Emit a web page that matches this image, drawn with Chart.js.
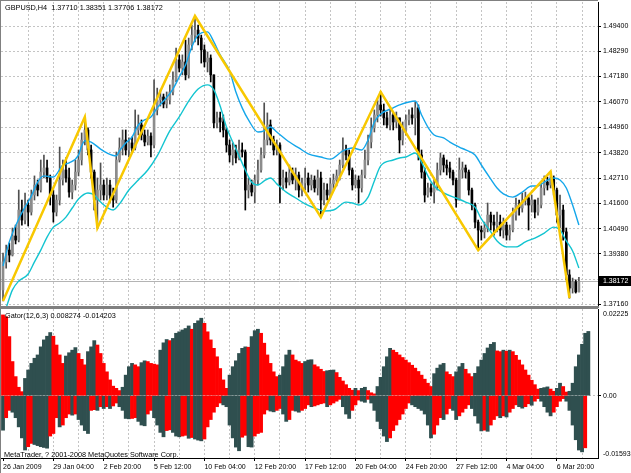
<!DOCTYPE html>
<html>
<head>
<meta charset="utf-8">
<script src="https://cdn.jsdelivr.net/npm/chart.js@4.4.1/dist/chart.umd.min.js"></script>
<style>
  html, body { margin: 0; padding: 0; background: #fff; }
  #wrap { position: relative; width: 631px; height: 473px; overflow: hidden; }
  #price { position: absolute; left: 0; top: 0; }
  #gator { position: absolute; left: 0; top: 308px; }
</style>
</head>
<body>
<div id="wrap">
  <canvas id="price" width="631" height="308" style="width:631px;height:308px"></canvas>
  <canvas id="gator" width="631" height="165" style="width:631px;height:165px"></canvas>
</div>
<script>
// GBPUSD H4, one entry per bar (bar 0 = 26 Jan 2009 16:00)
const timeLabels = ['26 Jan 2009', '29 Jan 04:00', '2 Feb 20:00', '5 Feb 12:00', '10 Feb 04:00', '12 Feb 20:00',
  '17 Feb 12:00', '20 Feb 04:00', '24 Feb 20:00', '27 Feb 12:00', '4 Mar 04:00', '6 Mar 20:00'];

const opens = [1.3780,1.3903,1.3955,1.3933,1.4017,1.3999,1.4131,1.4087,1.4153,1.4122,
  1.4197,1.4241,1.4219,1.4298,1.4316,1.4272,1.4197,1.4122,1.4175,1.4263,
  1.4307,1.4272,1.4210,1.4241,1.4298,1.4351,1.4439,1.4483,1.4395,1.4298,
  1.4175,1.4219,1.4241,1.4197,1.4241,1.4197,1.4175,1.4351,1.4404,1.4439,
  1.4395,1.4426,1.4404,1.4483,1.4505,1.4461,1.4430,1.4456,1.4417,1.4571,
  1.4615,1.4628,1.4597,1.4615,1.4650,1.4703,1.4791,1.4755,1.4782,1.4725,
  1.4857,1.4900,1.4922,1.4887,1.4835,1.4782,1.4799,1.4725,1.4514,1.4536,
  1.4518,1.4483,1.4417,1.4373,1.4395,1.4360,1.4395,1.4386,1.4219,1.4241,
  1.4210,1.4263,1.4307,1.4373,1.4439,1.4505,1.4439,1.4395,1.4417,1.4241,
  1.4272,1.4254,1.4294,1.4263,1.4285,1.4219,1.4250,1.4272,1.4241,1.4263,
  1.4228,1.4272,1.4175,1.4219,1.4197,1.4246,1.4263,1.4281,1.4329,1.4395,
  1.4373,1.4307,1.4241,1.4263,1.4228,1.4285,1.4351,1.4430,1.4492,1.4549,
  1.4593,1.4571,1.4536,1.4505,1.4549,1.4518,1.4536,1.4439,1.4483,1.4527,
  1.4549,1.4536,1.4580,1.4373,1.4298,1.4197,1.4228,1.4210,1.4241,1.4307,
  1.4360,1.4329,1.4316,1.4298,1.4263,1.4175,1.4307,1.4316,1.4298,1.4219,
  1.4153,1.4078,1.4043,1.4035,1.4052,1.4109,1.4078,1.4065,1.4078,1.4043,
  1.4065,1.4021,1.4043,1.4109,1.4153,1.4140,1.4175,1.4184,1.4153,1.4175,
  1.4122,1.4153,1.4228,1.4254,1.4241,1.4272,1.4219,1.4109,1.4131,1.4035,
  1.3846,1.3788,1.3815,1.37710];

const highs = [1.3942,1.3977,1.3986,1.4052,1.4065,1.4219,1.4175,1.4206,1.4175,1.4219,
  1.4281,1.4263,1.4351,1.4373,1.4351,1.4285,1.4219,1.4197,1.4408,1.4351,
  1.4360,1.4316,1.4263,1.4351,1.4395,1.4470,1.4540,1.4492,1.4417,1.4307,
  1.4272,1.4338,1.4263,1.4272,1.4263,1.4228,1.4386,1.4448,1.4483,1.4483,
  1.4448,1.4452,1.4571,1.4549,1.4527,1.4483,1.4483,1.4470,1.4703,1.4667,
  1.4659,1.4641,1.4650,1.4681,1.4738,1.4843,1.4813,1.4813,1.4878,1.4887,
  1.4944,1.4984,1.4944,1.4900,1.4857,1.4826,1.4813,1.4725,1.4562,1.4562,
  1.4549,1.4492,1.4439,1.4426,1.4417,1.4439,1.4426,1.4395,1.4272,1.4263,
  1.4285,1.4351,1.4404,1.4602,1.4558,1.4527,1.4456,1.4439,1.4426,1.4307,
  1.4298,1.4329,1.4316,1.4316,1.4298,1.4272,1.4316,1.4294,1.4285,1.4281,
  1.4307,1.4298,1.4250,1.4246,1.4272,1.4289,1.4307,1.4351,1.4448,1.4417,
  1.4395,1.4316,1.4285,1.4281,1.4307,1.4395,1.4461,1.4536,1.4571,1.4615,
  1.4651,1.4597,1.4562,1.4571,1.4562,1.4562,1.4536,1.4518,1.4549,1.4571,
  1.4580,1.4606,1.4593,1.4395,1.4316,1.4250,1.4246,1.4272,1.4338,1.4382,
  1.4373,1.4351,1.4342,1.4307,1.4272,1.4360,1.4342,1.4329,1.4307,1.4228,
  1.4162,1.4087,1.4061,1.4078,1.4162,1.4122,1.4109,1.4122,1.4109,1.4096,
  1.4078,1.4065,1.4140,1.4184,1.4175,1.4206,1.4210,1.4197,1.4197,1.4175,
  1.4184,1.4250,1.4281,1.4276,1.4300,1.4281,1.4228,1.4197,1.4153,1.4052,
  1.3868,1.3832,1.3824,1.38351];

const lows = [1.3731,1.3876,1.3903,1.3929,1.3982,1.3991,1.4065,1.4070,1.4061,1.4109,
  1.4175,1.4193,1.4210,1.4272,1.4254,1.4153,1.4078,1.4105,1.4153,1.4241,
  1.4254,1.4188,1.4180,1.4219,1.4281,1.4329,1.4417,1.4373,1.4272,1.4131,
  1.4052,1.4175,1.4175,1.4175,1.4166,1.4144,1.4162,1.4342,1.4373,1.4373,
  1.4364,1.4386,1.4395,1.4461,1.4439,1.4413,1.4417,1.4364,1.4404,1.4549,
  1.4588,1.4580,1.4580,1.4597,1.4637,1.4694,1.4738,1.4725,1.4703,1.4711,
  1.4835,1.4870,1.4857,1.4777,1.4760,1.4738,1.4694,1.4492,1.4492,1.4474,
  1.4452,1.4386,1.4342,1.4329,1.4338,1.4351,1.4364,1.4131,1.4184,1.4193,
  1.4162,1.4241,1.4298,1.4360,1.4417,1.4417,1.4373,1.4373,1.4162,1.4219,
  1.4228,1.4241,1.4246,1.4219,1.4188,1.4193,1.4219,1.4210,1.4219,1.4210,
  1.4197,1.4100,1.4153,1.4175,1.4184,1.4219,1.4237,1.4263,1.4316,1.4351,
  1.4285,1.4219,1.4228,1.4162,1.4210,1.4272,1.4329,1.4404,1.4474,1.4518,
  1.4544,1.4505,1.4492,1.4483,1.4483,1.4492,1.4382,1.4417,1.4461,1.4505,
  1.4509,1.4461,1.4351,1.4272,1.4166,1.4188,1.4193,1.4162,1.4219,1.4285,
  1.4298,1.4285,1.4272,1.4241,1.4144,1.4175,1.4272,1.4272,1.4197,1.4131,
  1.4052,1.3955,1.3999,1.4008,1.4035,1.4043,1.4021,1.4035,1.4017,1.4008,
  1.3999,1.3999,1.4035,1.4087,1.4109,1.4122,1.4153,1.4043,1.4122,1.4096,
  1.4109,1.4140,1.4197,1.4219,1.4228,1.4197,1.4078,1.4052,1.3999,1.3824,
  1.3744,1.3766,1.3766,1.37706];

const closes = [1.3903,1.3955,1.3933,1.4017,1.3999,1.4131,1.4087,1.4153,1.4122,1.4197,
  1.4241,1.4219,1.4298,1.4316,1.4272,1.4197,1.4122,1.4175,1.4263,1.4307,
  1.4272,1.4210,1.4241,1.4298,1.4351,1.4439,1.4483,1.4395,1.4298,1.4175,
  1.4219,1.4241,1.4197,1.4241,1.4197,1.4175,1.4351,1.4404,1.4439,1.4395,
  1.4426,1.4404,1.4483,1.4505,1.4461,1.4430,1.4456,1.4417,1.4571,1.4615,
  1.4628,1.4597,1.4615,1.4650,1.4703,1.4791,1.4755,1.4782,1.4725,1.4857,
  1.4900,1.4922,1.4887,1.4835,1.4782,1.4799,1.4725,1.4514,1.4536,1.4518,
  1.4483,1.4417,1.4373,1.4395,1.4360,1.4395,1.4386,1.4219,1.4241,1.4210,
  1.4263,1.4307,1.4373,1.4439,1.4505,1.4439,1.4395,1.4417,1.4241,1.4272,
  1.4254,1.4294,1.4263,1.4285,1.4219,1.4250,1.4272,1.4241,1.4263,1.4228,
  1.4272,1.4175,1.4219,1.4197,1.4246,1.4263,1.4281,1.4329,1.4395,1.4373,
  1.4307,1.4241,1.4263,1.4228,1.4285,1.4351,1.4430,1.4492,1.4549,1.4593,
  1.4571,1.4536,1.4505,1.4549,1.4518,1.4536,1.4439,1.4483,1.4527,1.4549,
  1.4536,1.4580,1.4373,1.4298,1.4197,1.4228,1.4210,1.4241,1.4307,1.4360,
  1.4329,1.4316,1.4298,1.4263,1.4175,1.4307,1.4316,1.4298,1.4219,1.4153,
  1.4078,1.4043,1.4035,1.4052,1.4109,1.4078,1.4065,1.4078,1.4043,1.4065,
  1.4021,1.4043,1.4109,1.4153,1.4140,1.4175,1.4184,1.4153,1.4175,1.4122,
  1.4153,1.4228,1.4254,1.4241,1.4272,1.4219,1.4109,1.4131,1.4035,1.3846,
  1.3788,1.3815,1.3771,1.38172];

// zigzag turning points (bar index, price)
const zigzagBars = [0, 26, 30, 61, 101, 120, 151, 174, 180];
const zigzagPrices = [1.3731, 1.4540, 1.4052, 1.4984, 1.4100, 1.4651, 1.3955, 1.4300, 1.3744];

// the two blue band lines, read at sample bars
const upperBandBars = [0,2,5,9,11,13,16,19,21,24,25,26,28,31,33,36,37,39,41,43,45,47,49,51,54,56,58,60,62,65,
  67,69,72,74,76,78,81,83,85,87,91,94,97,101,104,108,111,114,116,118,120,124,126,131,133,135,137,140,142,145,
  147,150,152,155,157,159,162,165,168,170,172,175,177,179,181,183];
const upperBandPrices = [1.3885,1.3991,1.4092,1.4193,1.4254,1.4281,1.4276,1.4329,1.4338,1.4373,1.4413,1.4435,1.4430,1.4399,1.4382,1.4369,1.4391,1.4426,1.4452,1.4505,
  1.4527,1.4540,1.4580,1.4610,1.4663,1.4716,1.4769,1.4848,1.4900,1.4914,
  1.4870,1.4813,1.4742,1.4650,1.4580,1.4527,1.4474,1.4479,1.4496,1.4474,1.4430,1.4404,1.4378,1.4364,1.4355,1.4391,1.4404,1.4395,1.4439,1.4518,
  1.4553,1.4580,1.4593,1.4610,1.4549,1.4496,1.4461,1.4448,1.4430,1.4408,
  1.4395,1.4373,1.4329,1.4267,1.4228,1.4202,1.4188,1.4210,1.4237,1.4237,1.4254,1.4272,1.4263,1.4228,1.4153,1.4065];

const lowerBandBars = [1,3,5,8,10,12,14,16,18,20,22,24,27,29,31,35,37,40,43,46,49,53,56,59,62,65,67,69,71,73,
  75,77,79,81,83,85,87,90,93,96,99,102,105,109,111,113,116,118,120,124,126,128,131,133,135,137,140,144,147,150,
  152,155,157,160,163,166,169,172,175,177,179,181,183];
const lowerBandPrices = [1.3701,1.3780,1.3819,1.3850,1.3903,1.3955,1.4012,1.4056,1.4074,1.4100,1.4140,1.4180,1.4206,1.4197,1.4166,1.4131,1.4158,1.4219,1.4263,1.4307,
  1.4369,1.4479,1.4540,1.4610,1.4663,1.4681,1.4659,1.4588,1.4496,1.4430,
  1.4369,1.4307,1.4254,1.4241,1.4259,1.4272,1.4246,1.4210,1.4184,1.4158,1.4140,1.4127,1.4131,1.4166,1.4162,1.4153,1.4188,1.4259,1.4325,1.4351,
  1.4360,1.4364,1.4382,1.4342,1.4281,1.4237,1.4206,1.4184,1.4166,1.4144,
  1.4092,1.4035,1.3995,1.3969,1.3969,1.3991,1.4008,1.4030,1.4056,1.4043,1.3995,1.3951,1.3876];

// Gator(12,6,3) histogram, one value per bar (runs a few bars past the last candle)
const gatorUpper = [0.0220,0.0215,0.0161,0.0093,0.0052,0.0023,0.0011,0.0047,0.0070,0.0088,
  0.0102,0.0111,0.0133,0.0152,0.0162,0.0172,0.0162,0.0138,0.0111,0.0088,
  0.0108,0.0117,0.0124,0.0131,0.0115,0.0099,0.0084,0.0120,0.0133,0.0150,
  0.0138,0.0115,0.0088,0.0065,0.0043,0.0026,0.0020,0.0014,0.0023,0.0056,
  0.0079,0.0088,0.0084,0.0079,0.0090,0.0095,0.0093,0.0088,0.0086,0.0084,
  0.0124,0.0144,0.0153,0.0150,0.0156,0.0170,0.0174,0.0179,0.0183,0.0190,
  0.0181,0.0197,0.0204,0.0211,0.0197,0.0174,0.0152,0.0129,0.0106,0.0074,
  0.0043,0.0020,0.0056,0.0079,0.0095,0.0115,0.0129,0.0133,0.0132,0.0161,
  0.0177,0.0181,0.0170,0.0143,0.0111,0.0088,0.0065,0.0052,0.0056,0.0079,
  0.0111,0.0124,0.0111,0.0097,0.0093,0.0088,0.0093,0.0097,0.0098,0.0084,
  0.0079,0.0072,0.0066,0.0068,0.0069,0.0070,0.0063,0.0050,0.0040,0.0030,
  0.0020,0.0015,0.0020,0.0014,0.0020,0.0023,0.0014,0.0008,0.0005,0.0025,
  0.0050,0.0079,0.0106,0.0129,0.0124,0.0118,0.0111,0.0104,0.0097,0.0090,
  0.0083,0.0075,0.0066,0.0056,0.0045,0.0034,0.0025,0.0060,0.0075,0.0084,
  0.0088,0.0065,0.0058,0.0052,0.0065,0.0079,0.0088,0.0072,0.0060,0.0052,
  0.0061,0.0079,0.0097,0.0115,0.0130,0.0140,0.0145,0.0122,0.0120,0.0124,
  0.0121,0.0124,0.0120,0.0110,0.0097,0.0084,0.0070,0.0056,0.0042,0.0030,
  0.0018,0.0020,0.0022,0.0024,0.0018,0.0012,0.0020,0.0034,0.0025,0.0010,
  0.0012,0.0034,0.0079,0.0111,0.0140,0.0170,0.0175];

const gatorLower = [-0.0094,-0.0060,-0.0040,-0.0045,-0.0060,-0.0085,-0.0115,-0.0148,-0.0139,-0.0130,
  -0.0133,-0.0136,-0.0139,-0.0141,-0.0143,-0.0110,-0.0103,-0.0060,-0.0085,-0.0080,
  -0.0060,-0.0050,-0.0053,-0.0050,-0.0065,-0.0080,-0.0095,-0.0103,-0.0040,-0.0038,
  -0.0040,-0.0030,-0.0035,-0.0030,-0.0035,-0.0028,-0.0020,-0.0030,-0.0040,-0.0062,
  -0.0063,-0.0062,-0.0060,-0.0070,-0.0080,-0.0082,-0.0050,-0.0040,-0.0060,-0.0080,
  -0.0100,-0.0112,-0.0095,-0.0093,-0.0100,-0.0110,-0.0112,-0.0110,-0.0108,-0.0116,
  -0.0114,-0.0118,-0.0121,-0.0123,-0.0118,-0.0085,-0.0065,-0.0045,-0.0030,-0.0020,
  -0.0025,-0.0030,-0.0080,-0.0115,-0.0140,-0.0150,-0.0113,-0.0108,-0.0139,-0.0140,
  -0.0110,-0.0103,-0.0100,-0.0050,-0.0039,-0.0042,-0.0044,-0.0040,-0.0035,-0.0050,
  -0.0070,-0.0065,-0.0040,-0.0042,-0.0045,-0.0040,-0.0035,-0.0025,-0.0030,-0.0028,
  -0.0025,-0.0022,-0.0020,-0.0030,-0.0025,-0.0020,-0.0015,-0.0010,-0.0030,-0.0050,
  -0.0062,-0.0040,-0.0025,-0.0012,-0.0015,-0.0018,-0.0010,-0.0020,-0.0040,-0.0070,
  -0.0090,-0.0110,-0.0125,-0.0115,-0.0095,-0.0080,-0.0065,-0.0050,-0.0035,-0.0020,
  -0.0025,-0.0030,-0.0035,-0.0040,-0.0050,-0.0080,-0.0115,-0.0105,-0.0080,-0.0060,
  -0.0065,-0.0050,-0.0035,-0.0040,-0.0065,-0.0055,-0.0045,-0.0035,-0.0025,-0.0035,
  -0.0055,-0.0075,-0.0096,-0.0094,-0.0097,-0.0080,-0.0065,-0.0055,-0.0060,-0.0055,
  -0.0058,-0.0045,-0.0035,-0.0025,-0.0030,-0.0034,-0.0030,-0.0022,-0.0026,-0.0015,
  -0.0008,-0.0015,-0.0030,-0.0045,-0.0055,-0.0045,-0.0030,-0.0015,-0.0008,-0.0015,
  -0.0040,-0.0080,-0.0120,-0.0148,-0.0153,-0.0142];

const priceTicks = [1.4940, 1.4829, 1.4718, 1.4607, 1.4496, 1.4382, 1.4271, 1.4160, 1.4049, 1.3938, 1.3827, 1.3716];
const priceTickLabels = ['1.49400', '1.48290', '1.47180', '1.46070', '1.44960', '1.43820', '1.42710', '1.41600', '1.40490', '1.39380', '', '1.37160'];
const gatorTicks = [0.02225, 0, -0.01593];
const gatorTickLabels = ['0.02225', '0.00', '-0.01593'];
const lastPrice = 1.38172;
const headerText = 'GBPUSD,H4  1.37710 1.38351 1.37706 1.38172';
const gatorText = 'Gator(12,6,3) 0.008274 -0.014203';
const copyrightText = 'MetaTrader, ? 2001-2008 MetaQuotes Software Corp.';

// ---- styling ----
const FONT = '"Liberation Sans", Arial, sans-serif';
Chart.defaults.font.family = FONT;
Chart.defaults.font.size = 7;
Chart.defaults.color = '#000';

const gridColor = '#c4c4c4';
const bullColor = '#8c8c8c';
const bearColor = '#000000';
const teal = '#2f4f4f';
const red = '#ff0000';
const xMin = -0.64, xMax = 189.07;
const gridBars = [];
for (let b = 0; b <= 184; b += 8) gridBars.push(b);

const candleColors = closes.map((c, i) => c >= opens[i] ? bullColor : bearColor);
const wickColors = closes.map((c, i) => c >= opens[i] ? '#505050' : '#000000');

function gatorColors(values, first) {
  return values.map((v, i) => i === 0 ? first : (Math.abs(v) > Math.abs(values[i - 1]) ? teal : red));
}

const textPlugin = {
  id: 'mtText',
  afterDraw(chart, args, opts) {
    const ctx = chart.ctx;
    ctx.save();
    ctx.font = '7.3px ' + FONT;
    ctx.fillStyle = '#000';
    ctx.textBaseline = 'middle';
    opts.lines.forEach(l => ctx.fillText(l.text, l.x, l.y));
    ctx.restore();
  }
};

const framePlugin = {
  id: 'mtFrame',
  afterDraw(chart, args, opts) {
    const {ctx, chartArea: a} = chart;
    ctx.save();
    ctx.fillStyle = '#808080';
    ctx.fillRect(0, 0, 1, chart.height);
    if (opts.top) ctx.fillRect(0, 0, a.right, 1);
    if (opts.bottom) ctx.fillRect(0, a.bottom, a.right + 1, 2);
    ctx.restore();
  }
};

const lastPricePlugin = {
  id: 'lastPrice',
  beforeDatasetsDraw(chart) {
    const {ctx, chartArea: a, scales: {y}} = chart;
    const py = Math.round(y.getPixelForValue(lastPrice)) + 0.5;
    ctx.save();
    ctx.strokeStyle = '#b4b4b4';
    ctx.lineWidth = 1;
    ctx.beginPath();
    ctx.moveTo(a.left, py);
    ctx.lineTo(a.right, py);
    ctx.stroke();
    ctx.restore();
  },
  afterDraw(chart) {
    const {ctx, chartArea: a, scales: {y}} = chart;
    const py = Math.round(y.getPixelForValue(lastPrice));
    ctx.save();
    ctx.fillStyle = '#000';
    ctx.fillRect(a.right + 1, py - 5, chart.width - a.right - 1, 10);
    ctx.fillStyle = '#fff';
    ctx.font = '7px ' + FONT;
    ctx.textBaseline = 'middle';
    ctx.fillText(lastPrice.toFixed(5), a.right + 5, py + 0.5);
    ctx.restore();
  }
};

const common = {
  responsive: false,
  animation: false,
  events: [],
  plugins: { legend: { display: false }, tooltip: { enabled: false } }
};

new Chart(document.getElementById('price'), {
  type: 'bar',
  data: {
    datasets: [
      {
        type: 'line',
        data: zigzagBars.map((b, i) => ({ x: b, y: zigzagPrices[i] })),
        borderColor: '#f8c800',
        borderWidth: 2.5,
        pointRadius: 0,
        order: 0
      },
      {
        type: 'line',
        data: upperBandBars.map((b, i) => ({ x: b, y: upperBandPrices[i] })),
        borderColor: '#14a6ea',
        borderWidth: 1.4,
        pointRadius: 0,
        cubicInterpolationMode: 'monotone',
        order: 1
      },
      {
        type: 'line',
        data: lowerBandBars.map((b, i) => ({ x: b, y: lowerBandPrices[i] })),
        borderColor: '#12c4d0',
        borderWidth: 1.4,
        pointRadius: 0,
        cubicInterpolationMode: 'monotone',
        order: 1
      },
      {
        data: opens.map((o, i) => ({ x: i, y: [o, closes[i]] })),
        backgroundColor: candleColors,
        barThickness: 2,
        minBarLength: 1,
        grouped: false,
        order: 2
      },
      {
        data: lows.map((l, i) => ({ x: i, y: [l, highs[i]] })),
        backgroundColor: wickColors,
        barThickness: 1,
        grouped: false,
        order: 3
      }
    ]
  },
  options: {
    ...common,
    layout: { padding: { left: 1, top: 2, right: 0, bottom: 2 } },
    plugins: {
      ...common.plugins,
      mtText: { lines: [{ text: headerText, x: 5, y: 8 }] },
      mtFrame: { top: true, bottom: true }
    },
    scales: {
      x: {
        type: 'linear', min: xMin, max: xMax, offset: false, bounds: 'data',
        afterBuildTicks: s => { s.ticks = gridBars.map(v => ({ value: v })); },
        afterFit: s => { s.height = 0; s.paddingLeft = 0; s.paddingRight = 0; },
        ticks: { display: false },
        grid: { offset: false, drawTicks: false, color: c => (c.tick && c.tick.value > 0) ? gridColor : 'rgba(0,0,0,0)' },
        border: { display: false, dash: [2, 2] }
      },
      y: {
        type: 'linear', position: 'right', min: 1.37092, max: 1.50455, bounds: 'data',
        afterBuildTicks: s => { s.ticks = priceTicks.map(v => ({ value: v })); },
        afterFit: s => { s.width = 33; s.paddingTop = 0; s.paddingBottom = 0; },
        ticks: { padding: 2, autoSkip: false, callback: (v, i) => priceTickLabels[i] },
        grid: { color: gridColor, tickLength: 3, tickColor: '#000' },
        border: { display: true, color: '#000', dash: [2, 2] }
      }
    }
  },
  plugins: [lastPricePlugin, framePlugin, textPlugin]
});

new Chart(document.getElementById('gator'), {
  type: 'bar',
  data: {
    datasets: [
      {
        data: gatorUpper.map((v, i) => ({ x: i, y: v })),
        backgroundColor: gatorColors(gatorUpper, red),
        barPercentage: 1,
        categoryPercentage: 1,
        grouped: false
      },
      {
        data: gatorLower.map((v, i) => ({ x: i, y: v })),
        backgroundColor: gatorColors(gatorLower, teal),
        barPercentage: 1,
        categoryPercentage: 1,
        grouped: false
      }
    ]
  },
  options: {
    ...common,
    layout: { padding: { left: 1, top: 1, right: 0, bottom: 1 } },
    plugins: {
      ...common.plugins,
      mtText: { lines: [{ text: gatorText, x: 5, y: 7.5 }, { text: copyrightText, x: 4, y: 146.5 }] },
      mtFrame: { top: true, bottom: false }
    },
    scales: {
      x: {
        type: 'linear', min: xMin, max: xMax, offset: false, bounds: 'data',
        afterBuildTicks: s => { s.ticks = gridBars.map(v => ({ value: v })); },
        afterFit: s => { s.height = 14; s.paddingLeft = 0; s.paddingRight = 0; },
        ticks: {
          align: 'start', maxRotation: 0, autoSkip: false, padding: 2,
          callback: v => (v % 16 === 0 ? timeLabels[v / 16] : '')
        },
        grid: {
          offset: false, tickLength: 3,
          color: c => (c.tick && c.tick.value > 0) ? gridColor : 'rgba(0,0,0,0)',
          tickColor: c => (c.tick && c.tick.value % 16 === 0) ? '#000' : 'rgba(0,0,0,0)'
        },
        border: { display: true, color: '#000', dash: [2, 2] }
      },
      y: {
        type: 'linear', position: 'right', min: -0.01697, max: 0.02361, bounds: 'data',
        afterBuildTicks: s => { s.ticks = gatorTicks.map(v => ({ value: v })); },
        afterFit: s => { s.width = 33; s.paddingTop = 0; s.paddingBottom = 0; },
        ticks: { padding: 2, autoSkip: false, callback: (v, i) => gatorTickLabels[i] },
        grid: {
          tickLength: 3,
          color: c => (c.tick && c.tick.value === 0) ? gridColor : 'rgba(0,0,0,0)',
          tickColor: c => (c.tick && c.tick.value === 0) ? '#000' : 'rgba(0,0,0,0)'
        },
        border: { display: true, color: '#000', dash: [2, 2] }
      }
    }
  },
  plugins: [framePlugin, textPlugin]
});
</script>
</body>
</html>
